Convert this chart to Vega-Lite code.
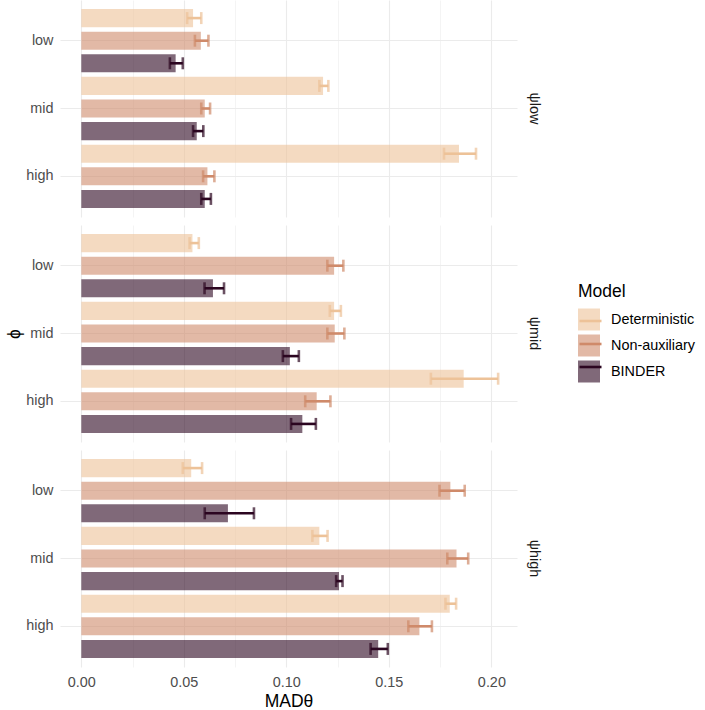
{
  "$schema": "https://vega.github.io/schema/vega-lite/v6.json",
  "background": "white",
  "padding": {"left": 5, "top": 0, "right": 130, "bottom": 5},
  "config": {
    "font": "Liberation Sans",
    "view": {"stroke": null},
    "axis": {"domain": false, "ticks": false, "labelColor": "#4D4D4D", "labelFontSize": 14.4, "titleFontSize": 17.5, "titleFontWeight": "normal", "titleColor": "#000000", "gridColor": "#EBEBEB"},
    "legend": {"titleFontWeight": "normal"},
    "header": {"labelFont": "Liberation Sans", "titleFont": "Liberation Sans"}
  },
  "data": {"values": [
    {"psi": "low", "phi": "low", "Model": "Deterministic", "mad": 0.0545, "lo": 0.0516, "hi": 0.0585},
    {"psi": "low", "phi": "low", "Model": "Non-auxiliary", "mad": 0.0583, "lo": 0.0554, "hi": 0.0620},
    {"psi": "low", "phi": "low", "Model": "BINDER", "mad": 0.0460, "lo": 0.0432, "hi": 0.0495},
    {"psi": "low", "phi": "mid", "Model": "Deterministic", "mad": 0.1179, "lo": 0.1161, "hi": 0.1205},
    {"psi": "low", "phi": "mid", "Model": "Non-auxiliary", "mad": 0.0602, "lo": 0.0585, "hi": 0.0628},
    {"psi": "low", "phi": "mid", "Model": "BINDER", "mad": 0.0563, "lo": 0.0545, "hi": 0.0595},
    {"psi": "low", "phi": "high", "Model": "Deterministic", "mad": 0.1842, "lo": 0.1769, "hi": 0.1925},
    {"psi": "low", "phi": "high", "Model": "Non-auxiliary", "mad": 0.0615, "lo": 0.0594, "hi": 0.0649},
    {"psi": "low", "phi": "high", "Model": "BINDER", "mad": 0.0602, "lo": 0.0585, "hi": 0.0632},
    {"psi": "mid", "phi": "low", "Model": "Deterministic", "mad": 0.0542, "lo": 0.0528, "hi": 0.0573},
    {"psi": "mid", "phi": "low", "Model": "Non-auxiliary", "mad": 0.1233, "lo": 0.1200, "hi": 0.1278},
    {"psi": "mid", "phi": "low", "Model": "BINDER", "mad": 0.0642, "lo": 0.0601, "hi": 0.0696},
    {"psi": "mid", "phi": "mid", "Model": "Deterministic", "mad": 0.1233, "lo": 0.1212, "hi": 0.1266},
    {"psi": "mid", "phi": "mid", "Model": "Non-auxiliary", "mad": 0.1236, "lo": 0.1200, "hi": 0.1283},
    {"psi": "mid", "phi": "mid", "Model": "BINDER", "mad": 0.1017, "lo": 0.0983, "hi": 0.1061},
    {"psi": "mid", "phi": "high", "Model": "Deterministic", "mad": 0.1865, "lo": 0.1705, "hi": 0.2033},
    {"psi": "mid", "phi": "high", "Model": "Non-auxiliary", "mad": 0.1148, "lo": 0.1092, "hi": 0.1215},
    {"psi": "mid", "phi": "high", "Model": "BINDER", "mad": 0.1078, "lo": 0.1023, "hi": 0.1144},
    {"psi": "high", "phi": "low", "Model": "Deterministic", "mad": 0.0536, "lo": 0.0495, "hi": 0.0589},
    {"psi": "high", "phi": "low", "Model": "Non-auxiliary", "mad": 0.1800, "lo": 0.1747, "hi": 0.1870},
    {"psi": "high", "phi": "low", "Model": "BINDER", "mad": 0.0715, "lo": 0.0602, "hi": 0.0842},
    {"psi": "high", "phi": "mid", "Model": "Deterministic", "mad": 0.1161, "lo": 0.1127, "hi": 0.1201},
    {"psi": "high", "phi": "mid", "Model": "Non-auxiliary", "mad": 0.1830, "lo": 0.1785, "hi": 0.1887},
    {"psi": "high", "phi": "mid", "Model": "BINDER", "mad": 0.1257, "lo": 0.1243, "hi": 0.1274},
    {"psi": "high", "phi": "high", "Model": "Deterministic", "mad": 0.1797, "lo": 0.1776, "hi": 0.1828},
    {"psi": "high", "phi": "high", "Model": "Non-auxiliary", "mad": 0.1649, "lo": 0.1595, "hi": 0.1710},
    {"psi": "high", "phi": "high", "Model": "BINDER", "mad": 0.1448, "lo": 0.1411, "hi": 0.1495}
  ]},
  "facet": {
    "row": {"field": "psi", "type": "nominal", "sort": ["low", "mid", "high"], "title": "ϕ",
      "header": {"titleOrient": "left", "titleFontSize": 17.5, "titleFontWeight": "normal", "titleColor": "#000000", "titlePadding": -8,
        "labelOrient": "right", "labelAngle": 90, "labelFontSize": 14.4, "labelColor": "#1A1A1A", "labelPadding": 10, "labelExpr": "'ψ' + datum.value"}}
  },
  "spacing": 8,
  "spec": {
    "width": 457,
    "height": 217,
    "encoding": {
      "y": {"field": "phi", "type": "nominal", "sort": ["low", "mid", "high"], "title": null,
        "scale": {"paddingInner": 0, "paddingOuter": 0.1},
        "axis": {"grid": true, "bandPosition": 0.5, "gridWidth": 1.1, "labelPadding": 7}},
      "yOffset": {"field": "Model", "type": "nominal", "sort": ["Deterministic", "Non-auxiliary", "BINDER"],
        "scale": {"paddingInner": 0.2, "paddingOuter": 0.1}}
    },
    "layer": [
      {
        "mark": {"type": "bar", "opacity": 0.6},
        "encoding": {
          "x": {"field": "mad", "type": "quantitative", "title": "MADθ",
            "scale": {"domain": [-0.0104, 0.2125], "zero": false, "nice": false},
            "axis": {"values": [0, 0.025, 0.05, 0.075, 0.1, 0.125, 0.15, 0.175, 0.2],
              "labelExpr": "round(datum.value*1000) % 50 == 0 ? format(datum.value, '.2f') : ''",
              "gridWidth": {"condition": {"test": "round(datum.value*1000) % 50 == 0", "value": 1.1}, "value": 0.55},
              "labelPadding": 8, "titlePadding": 4}},
          "x2": {"datum": 0},
          "color": {"field": "Model", "type": "nominal", "sort": ["Deterministic", "Non-auxiliary", "BINDER"],
            "scale": {"range": ["#EDC298", "#CF8A6A", "#2B0520"]},
            "legend": {"orient": "none", "legendX": 518, "legendY": 283, "title": "Model", "titleFontSize": 17.5, "titlePadding": 8,
              "labelFontSize": 14.4, "labelColor": "#000000", "symbolType": "square", "symbolSize": 484, "symbolOpacity": 0.6, "symbolStrokeWidth": 0, "rowPadding": 4, "labelOffset": 11}}
        }
      },
      {
        "mark": {"type": "rule", "strokeWidth": 2.6},
        "encoding": {
          "x": {"field": "lo", "type": "quantitative"},
          "x2": {"field": "hi"},
          "stroke": {"field": "Model", "type": "nominal",
            "scale": {"domain": ["Deterministic", "Non-auxiliary", "BINDER"], "range": ["#EDC298", "#CF8A6A", "#2B0520"]},
            "legend": {"orient": "none", "legendX": 518, "legendY": 308.5, "title": null,
              "labelFontSize": 14.4, "labelExpr": "''", "symbolType": "stroke", "symbolSize": 484, "symbolStrokeWidth": 2.6, "rowPadding": 4, "labelOffset": 11}}
        }
      },
      {
        "mark": {"type": "tick", "thickness": 2.6, "size": 12},
        "encoding": {
          "x": {"field": "lo", "type": "quantitative"},
          "fill": {"field": "Model", "type": "nominal",
            "scale": {"domain": ["Deterministic", "Non-auxiliary", "BINDER"], "range": ["#EDC298", "#CF8A6A", "#2B0520"]}, "legend": null}
        }
      },
      {
        "mark": {"type": "tick", "thickness": 2.6, "size": 12},
        "encoding": {
          "x": {"field": "hi", "type": "quantitative"},
          "fill": {"field": "Model", "type": "nominal",
            "scale": {"domain": ["Deterministic", "Non-auxiliary", "BINDER"], "range": ["#EDC298", "#CF8A6A", "#2B0520"]}, "legend": null}
        }
      }
    ]
  }
}
